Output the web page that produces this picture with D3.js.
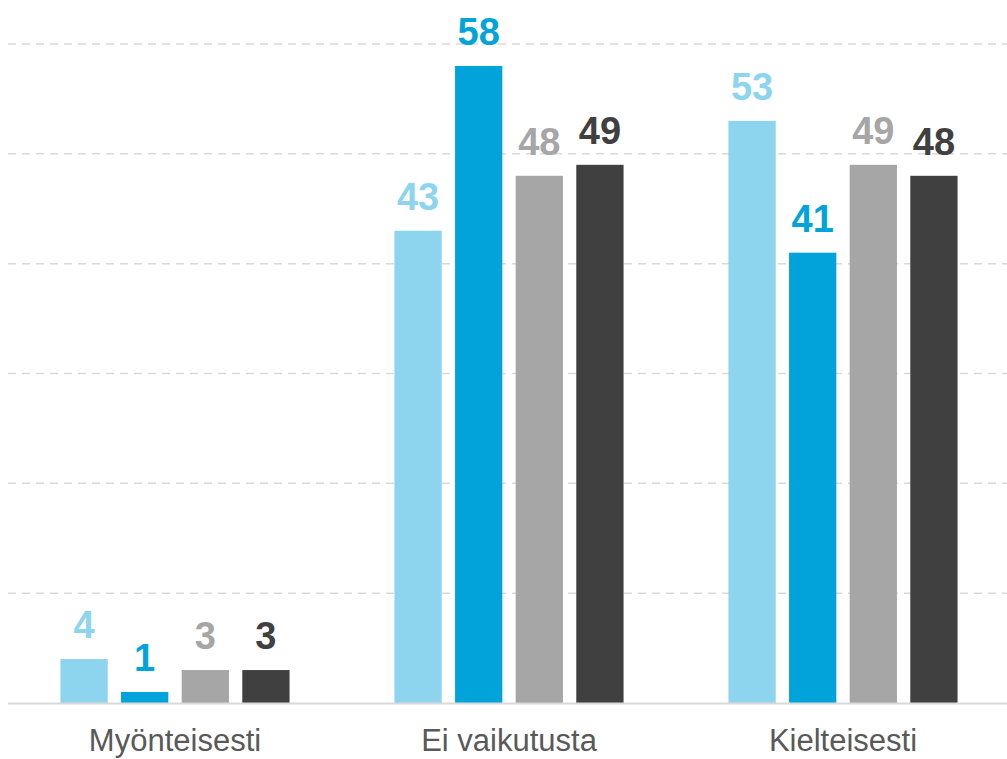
<!DOCTYPE html>
<html>
<head>
<meta charset="utf-8">
<script src="https://cdn.jsdelivr.net/npm/d3@7"></script>
<style>
  html, body { margin: 0; padding: 0; background: #fff; }
  svg { display: block; }
</style>
</head>
<body>
<script>
// Response categories along the x axis
const categories = ["Myönteisesti", "Ei vaikutusta", "Kielteisesti"];
// Four series, one value per category (%)
const seriesNames = ["s1", "s2", "s3", "s4"];
const series1 = [4, 43, 53];
const series2 = [1, 58, 41];
const series3 = [3, 48, 49];
const series4 = [3, 49, 48];
const seriesColors = ["#8dd5ee", "#00a4db", "#a6a6a6", "#404040"];
const gridTicks = [10, 20, 30, 40, 50, 60];

const allSeries = [series1, series2, series3, series4];

const width = 1007, height = 759;
const svg = d3.select("body").append("svg")
  .attr("width", width).attr("height", height);

const x0 = d3.scaleBand().domain(categories).range([8, 1010])
  .paddingInner(0.314).paddingOuter(0.157);
const x1 = d3.scaleBand().domain(seriesNames).range([0, x0.bandwidth()])
  .paddingInner(0.22).paddingOuter(0);
const y = d3.scaleLinear().domain([0, 60]).range([703, 44]);

// Dashed horizontal gridlines
svg.append("g").selectAll("line").data(gridTicks).join("line")
  .attr("x1", 8).attr("x2", width)
  .attr("y1", d => y(d)).attr("y2", d => y(d))
  .attr("stroke", "#d9d9d9").attr("stroke-width", 1.5)
  .attr("stroke-dasharray", "8,6");

// Bars and value labels
const groups = svg.append("g").selectAll("g").data(categories).join("g")
  .attr("transform", c => `translate(${x0(c)},0)`);

groups.each(function(c, ci) {
  const g = d3.select(this);
  const rows = seriesNames.map((s, si) => ({ s, si, v: allSeries[si][ci] }));
  g.selectAll("rect").data(rows).join("rect")
    .attr("x", d => x1(d.s))
    .attr("width", x1.bandwidth())
    .attr("y", d => y(d.v))
    .attr("height", d => y(0) - y(d.v))
    .attr("fill", d => seriesColors[d.si]);
  g.selectAll("text").data(rows).join("text")
    .attr("x", d => x1(d.s) + x1.bandwidth() / 2)
    .attr("y", d => y(d.v) - 21)
    .attr("text-anchor", "middle")
    .attr("font-family", "Liberation Sans, Arial, sans-serif")
    .attr("font-weight", "bold")
    .attr("font-size", 38)
    .attr("fill", d => seriesColors[d.si])
    .text(d => d.v);
});

// Baseline
svg.append("line")
  .attr("x1", 8).attr("x2", width)
  .attr("y1", y(0) + 0.5).attr("y2", y(0) + 0.5)
  .attr("stroke", "#d9d9d9").attr("stroke-width", 2);

// Category axis labels
const xAxis = d3.axisBottom(x0).tickSize(0).tickPadding(0);
const ax = svg.append("g").attr("transform", `translate(0,${y(0)})`).call(xAxis);
ax.select(".domain").remove();
ax.selectAll("text")
  .attr("dy", null)
  .attr("y", 48)
  .attr("font-family", "Liberation Sans, Arial, sans-serif")
  .attr("font-size", 31)
  .attr("fill", "#595959");
</script>
</body>
</html>
